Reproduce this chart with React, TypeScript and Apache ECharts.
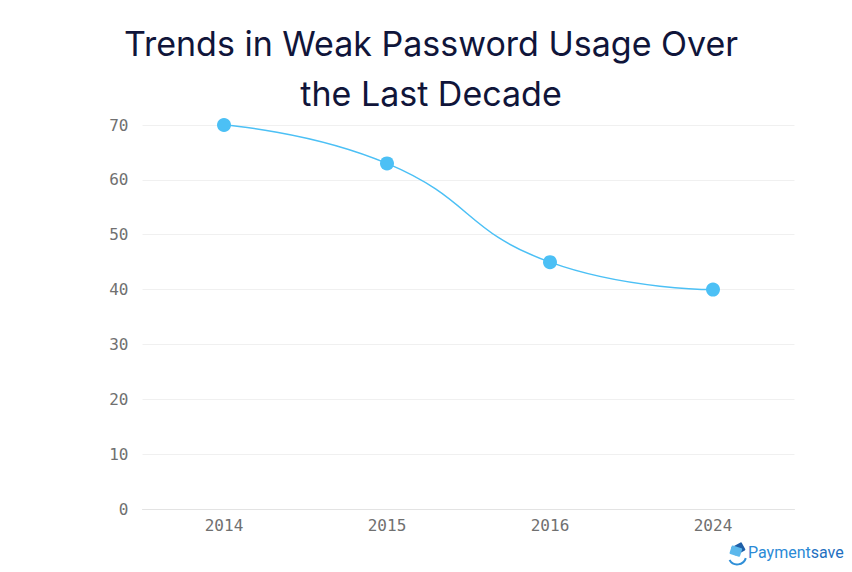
import React, { useEffect, useRef } from "react";
import * as echarts from "echarts";

const categories = ["2014", "2015", "2016", "2024"];
const values = [70, 63, 45, 40];
const titleText = "Trends in Weak Password Usage Over\nthe Last Decade";

export default function App() {
  const ref = useRef<HTMLDivElement>(null);
  useEffect(() => {
    const chart = echarts.init(ref.current!, null, { renderer: "svg" });
    chart.setOption({
      animation: false,
      backgroundColor: "#ffffff",
      title: {
        text: titleText,
        left: 426,
        textAlign: "center",
        top: 13,
        textStyle: {
          fontFamily: "Inter",
          fontSize: 34,
          fontWeight: "normal",
          color: "#10153a",
          lineHeight: 50,
        },
      },
      grid: { left: 142.5, right: 57.5, top: 125, bottom: 63 },
      xAxis: {
        type: "category",
        data: categories,
        boundaryGap: true,
        axisLine: { lineStyle: { color: "#e3e3e3", width: 1 } },
        axisTick: { show: false },
        axisLabel: {
          color: "#707070",
          fontFamily: "DejaVu Sans Mono",
          fontSize: 16,
          margin: 8,
        },
      },
      yAxis: {
        type: "value",
        min: 0,
        max: 70,
        interval: 10,
        axisLine: { show: false },
        axisTick: { show: false },
        splitLine: { lineStyle: { color: "#f0f0f0", width: 1 } },
        axisLabel: {
          color: "#707070",
          fontFamily: "DejaVu Sans Mono",
          fontSize: 16,
          margin: 14,
        },
      },
      series: [
        {
          type: "line",
          data: values,
          smooth: 0.5,
          symbol: "circle",
          symbolSize: 14,
          lineStyle: { color: "#4cc0f5", width: 1.5 },
          itemStyle: { color: "#4cc0f5" },
        },
      ],
      graphic: [
        {
          type: "group",
          left: 727,
          top: 542,
          children: [
            { type: "rect", shape: { x: 2, y: 6, width: 12, height: 9, r: 1 }, rotation: 0.5, style: { fill: "#1f5fa8" } },
            { type: "rect", shape: { x: 6, y: 0, width: 11, height: 9, r: 1 }, rotation: -0.3, style: { fill: "#5cb8ec" } },
            { type: "arc", shape: { cx: 11, cy: 12, r: 9, startAngle: 0.3, endAngle: 2.6 }, style: { stroke: "#2f8fd8", lineWidth: 2, fill: "none" } },
          ],
        },
        {
          type: "text",
          left: 748,
          top: 544,
          style: {
            rich: {
              a: { fill: "#2b8ad6", fontFamily: "Roboto", fontSize: 16, fontWeight: "normal" },
              b: { fill: "#1f6fc0", fontFamily: "Roboto", fontSize: 16, fontWeight: "normal" },
            },
            text: "{a|Payment}{b|save}",
          },
        },
      ],
    });
    return () => chart.dispose();
  }, []);
  return (
    <div
      ref={ref}
      style={{ position: "absolute", left: 0, top: 0, width: 852, height: 572 }}
    />
  );
}
